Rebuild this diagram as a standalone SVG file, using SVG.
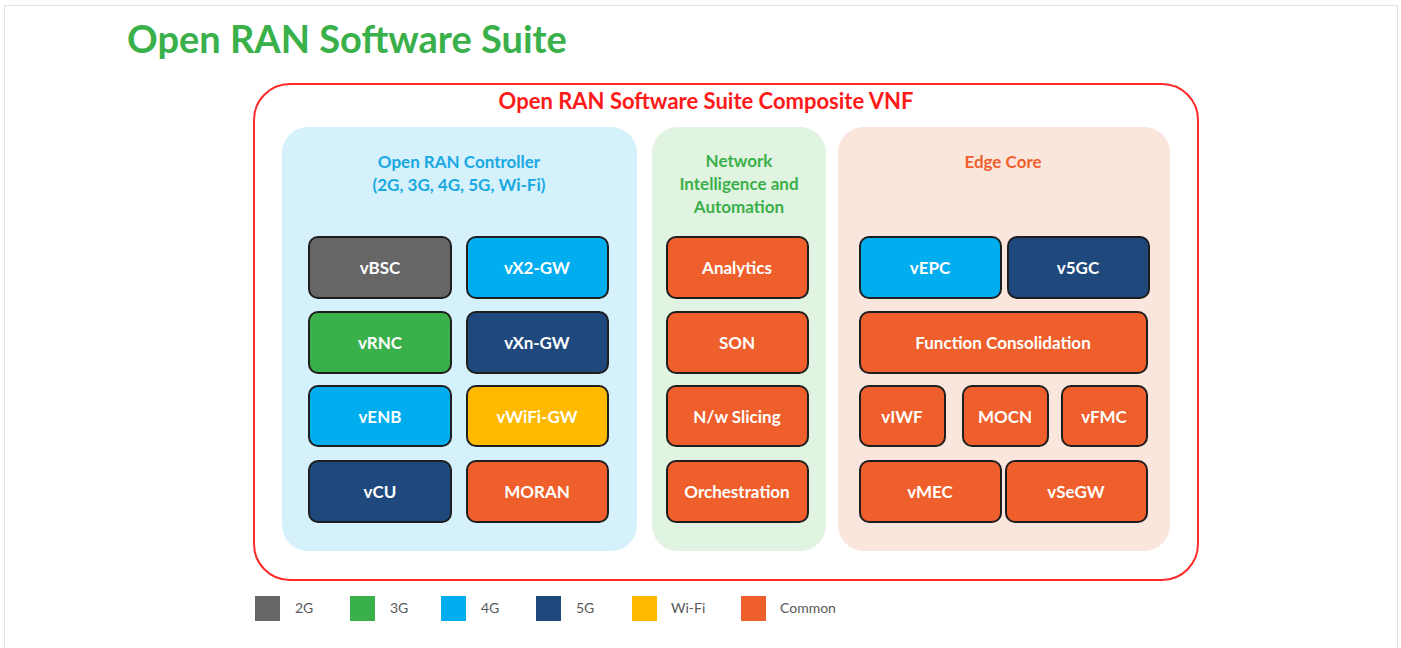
<svg xmlns="http://www.w3.org/2000/svg" width="1401" height="648" viewBox="0 0 1401 648">
<style>
text{font-family:Lato,"Open Sans","Liberation Sans",sans-serif}
.box{stroke:#1e1e1e;stroke-width:2}
.bt{fill:#fff;font-size:17px;font-weight:bold;text-anchor:middle;dominant-baseline:central}
.hd{font-size:17px;font-weight:bold;text-anchor:middle}
.lg{fill:#595959;font-size:14px}
.g2{fill:#666666}.g3{fill:#3AB04A}.g4{fill:#00AEEF}.g5{fill:#1F497D}.wf{fill:#FFBA00}.cm{fill:#EF5F2B}
</style>
<rect x="4.5" y="5.5" width="1393" height="660" fill="#fff" stroke="#e3e3e3"/>
<text x="127" y="53" font-size="38" font-weight="bold" fill="#3AB04A">Open RAN Software Suite</text>
<g id="composite">
<rect x="254" y="84" width="944" height="496" rx="36" fill="#fff" stroke="#FF2A2A" stroke-width="2"/>
<text x="706" y="109" font-size="22" font-weight="bold" fill="#FF1A1A" text-anchor="middle">Open RAN Software Suite Composite VNF</text>
</g>
<g id="panel-controller">
<rect x="282" y="127" width="355" height="424" rx="26" fill="#D5F1FC"/>
<text class="hd" x="459" y="168" fill="#19A9E2">Open RAN Controller</text>
<text class="hd" x="459" y="191" fill="#19A9E2">(2G, 3G, 4G, 5G, Wi-Fi)</text>
</g>
<g id="panel-nia">
<rect x="652" y="127" width="174" height="424" rx="26" fill="#E1F3E1"/>
<text class="hd" x="739" y="167" fill="#3AB04A">Network</text>
<text class="hd" x="739" y="190" fill="#3AB04A">Intelligence and</text>
<text class="hd" x="739" y="213" fill="#3AB04A">Automation</text>
</g>
<g id="panel-edge">
<rect x="838" y="127" width="332" height="424" rx="26" fill="#FBE6DD"/>
<text class="hd" x="1003" y="168" fill="#F0602C">Edge Core</text>
</g>
<g id="vBSC"><rect class="box g2" x="309" y="237" width="142" height="61" rx="9"/><text class="bt" x="380" y="267">vBSC</text></g>
<g id="vX2-GW"><rect class="box g4" x="467" y="237" width="141" height="61" rx="9"/><text class="bt" x="537" y="267">vX2-GW</text></g>
<g id="vRNC"><rect class="box g3" x="309" y="312" width="142" height="61" rx="9"/><text class="bt" x="380" y="342">vRNC</text></g>
<g id="vXn-GW"><rect class="box g5" x="467" y="312" width="141" height="61" rx="9"/><text class="bt" x="537" y="342">vXn-GW</text></g>
<g id="vENB"><rect class="box g4" x="309" y="386" width="142" height="60" rx="9"/><text class="bt" x="380" y="416">vENB</text></g>
<g id="vWiFi-GW"><rect class="box wf" x="467" y="386" width="141" height="60" rx="9"/><text class="bt" x="537" y="416">vWiFi-GW</text></g>
<g id="vCU"><rect class="box g5" x="309" y="461" width="142" height="61" rx="9"/><text class="bt" x="380" y="491">vCU</text></g>
<g id="MORAN"><rect class="box cm" x="467" y="461" width="141" height="61" rx="9"/><text class="bt" x="537" y="491">MORAN</text></g>
<g id="Analytics"><rect class="box cm" x="667" y="237" width="141" height="61" rx="9"/><text class="bt" x="737" y="267">Analytics</text></g>
<g id="SON"><rect class="box cm" x="667" y="312" width="141" height="61" rx="9"/><text class="bt" x="737" y="342">SON</text></g>
<g id="NwSlicing"><rect class="box cm" x="667" y="386" width="141" height="60" rx="9"/><text class="bt" x="737" y="416">N/w Slicing</text></g>
<g id="Orchestration"><rect class="box cm" x="667" y="461" width="141" height="61" rx="9"/><text class="bt" x="737" y="491">Orchestration</text></g>
<g id="vEPC"><rect class="box g4" x="860" y="237" width="141" height="61" rx="9"/><text class="bt" x="930" y="267">vEPC</text></g>
<g id="v5GC"><rect class="box g5" x="1008" y="237" width="141" height="61" rx="9"/><text class="bt" x="1078" y="267">v5GC</text></g>
<g id="FunctionConsolidation"><rect class="box cm" x="860" y="312" width="287" height="61" rx="9"/><text class="bt" x="1003" y="342">Function Consolidation</text></g>
<g id="vIWF"><rect class="box cm" x="860" y="386" width="85" height="60" rx="9"/><text class="bt" x="902" y="416">vIWF</text></g>
<g id="MOCN"><rect class="box cm" x="963" y="386" width="85" height="60" rx="9"/><text class="bt" x="1005" y="416">MOCN</text></g>
<g id="vFMC"><rect class="box cm" x="1062" y="386" width="85" height="60" rx="9"/><text class="bt" x="1104" y="416">vFMC</text></g>
<g id="vMEC"><rect class="box cm" x="860" y="461" width="141" height="61" rx="9"/><text class="bt" x="930" y="491">vMEC</text></g>
<g id="vSeGW"><rect class="box cm" x="1006" y="461" width="141" height="61" rx="9"/><text class="bt" x="1076" y="491">vSeGW</text></g>
<g id="connectors"></g>
<g id="legend">
<rect class="g2" x="255" y="596" width="25" height="25"/><text class="lg" x="295" y="613">2G</text>
<rect class="g3" x="350" y="596" width="25" height="25"/><text class="lg" x="390" y="613">3G</text>
<rect class="g4" x="441" y="596" width="25" height="25"/><text class="lg" x="481" y="613">4G</text>
<rect class="g5" x="536" y="596" width="25" height="25"/><text class="lg" x="576" y="613">5G</text>
<rect class="wf" x="632" y="596" width="25" height="25"/><text class="lg" x="671" y="613">Wi-Fi</text>
<rect class="cm" x="741" y="596" width="25" height="25"/><text class="lg" x="780" y="613">Common</text>
</g>
</svg>
